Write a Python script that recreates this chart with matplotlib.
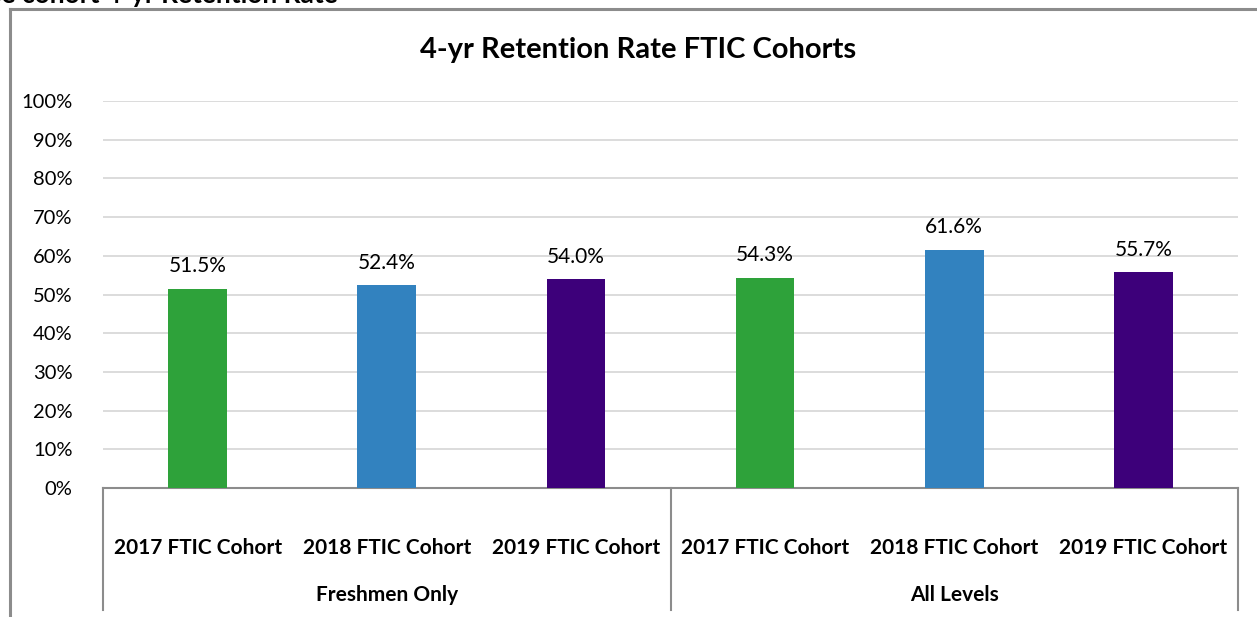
import matplotlib.pyplot as plt
import matplotlib.transforms as mtransforms
from matplotlib.lines import Line2D

plt.rcParams['font.family'] = ['Lato', 'DejaVu Sans']

### --- Data --- ###
cohorts = ["2017 FTIC Cohort", "2018 FTIC Cohort", "2019 FTIC Cohort",
           "2017 FTIC Cohort", "2018 FTIC Cohort", "2019 FTIC Cohort"]
groups = ["Freshmen Only", "All Levels"]
rates = [51.5, 52.4, 54.0, 54.3, 61.6, 55.7]
bar_colors = ["#2EA23A", "#3282BF", "#3D007A", "#2EA23A", "#3282BF", "#3D007A"]
yticks = [0, 10, 20, 30, 40, 50, 60, 70, 80, 90, 100]

W, H = 1257, 617
fig = plt.figure(figsize=(W / 100, H / 100), dpi=100)

# outer chart frame (partly cropped)
fig.add_artist(Line2D([10 / W, 10 / W], [0, 1 - 9 / H], color="#8c8c8c", lw=2.2))
fig.add_artist(Line2D([10 / W, 1], [1 - 9 / H, 1 - 9 / H], color="#8c8c8c", lw=2.2))
# cropped heading above the chart (only its lower edge shows)
fig.text(-10 / W, 1 - 3 / H, "se cohort 4-yr Retention Rate", fontsize=19,
         fontweight="bold", ha="left", va="baseline")

ax = fig.add_axes([103 / W, 1 - 488 / H, (1238 - 103) / W, (488 - 101) / H])
x = list(range(len(rates)))
ax.bar(x, rates, width=0.31, color=bar_colors, zorder=3)
ax.set_xlim(-0.5, len(rates) - 0.5)
ax.set_ylim(0, 100)
ax.set_yticks(yticks)
ax.set_yticklabels([f"{v}%" for v in yticks], fontsize=14.5)
ax.tick_params(axis="y", length=0, pad=22)
ax.set_xticks([])
ax.grid(axis="y", color="#d9d9d9", lw=1.3, zorder=0)
for s in ["top", "right", "left"]:
    ax.spines[s].set_visible(False)
ax.spines["bottom"].set_color("#8c8c8c")
ax.spines["bottom"].set_linewidth(1.5)

for xi, v in zip(x, rates):
    ax.annotate(f"{v:.1f}%", (xi, v), xytext=(0, 9), textcoords="offset points",
                ha="center", va="bottom", fontsize=15)

trans = mtransforms.blended_transform_factory(ax.transData, ax.transAxes)
px = 1 / (488 - 101)
for xi, lab in zip(x, cohorts):
    ax.text(xi, -60 * px, lab, transform=trans, ha="center", va="center",
            fontsize=15, fontweight="bold")
for gi, g in enumerate(groups):
    ax.text(gi * 3 + 1, -107 * px, g, transform=trans, ha="center", va="center",
            fontsize=15, fontweight="bold")
for bx in [-0.5, 2.5, 5.5]:
    ax.plot([bx, bx], [0, -122 * px], transform=trans, color="#8c8c8c", lw=1.5,
            clip_on=False)

fig.text(638 / W, 1 - 50 / H, "4-yr Retention Rate FTIC Cohorts", fontsize=21,
         fontweight="bold", ha="center", va="center")

fig.savefig("out.png", dpi=100)
